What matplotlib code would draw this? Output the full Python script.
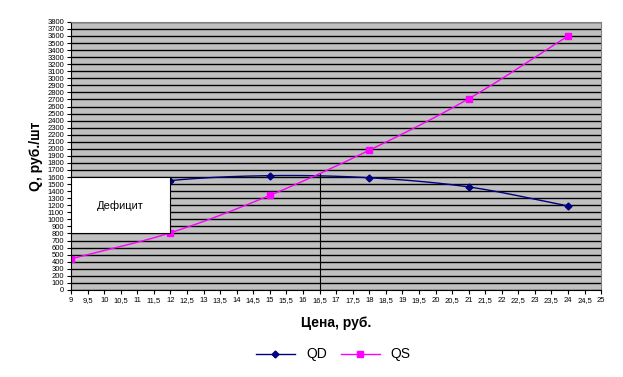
import numpy as np
import matplotlib.pyplot as plt
from matplotlib.ticker import FuncFormatter

# Данные
price = [9, 12, 15, 18, 21, 24]
qd = [1350, 1550, 1620, 1590, 1460, 1190]
qs = [440, 810, 1340, 1980, 2710, 3600]
eq_price = 16.5
eq_q = 1650


def smooth(x, y, n=30):
    # сглаживание Catmull-Rom, как в Excel
    x = np.asarray(x, float)
    y = np.asarray(y, float)
    px = np.concatenate([[2 * x[0] - x[1]], x, [2 * x[-1] - x[-2]]])
    py = np.concatenate([[2 * y[0] - y[1]], y, [2 * y[-1] - y[-2]]])
    xs, ys = [], []
    t = np.linspace(0, 1, n)
    for i in range(1, len(px) - 2):
        for p, out in ((px, xs), (py, ys)):
            p0, p1, p2, p3 = p[i - 1], p[i], p[i + 1], p[i + 2]
            out.extend(0.5 * ((2 * p1) + (-p0 + p2) * t
                              + (2 * p0 - 5 * p1 + 4 * p2 - p3) * t ** 2
                              + (-p0 + 3 * p1 - 3 * p2 + p3) * t ** 3))
    return xs, ys


plt.rcParams['font.family'] = ['Liberation Sans', 'DejaVu Sans']

fig = plt.figure(figsize=(6.23, 3.77), dpi=100)
ax = fig.add_axes([0.114, 0.231, 0.851, 0.711])
ax.set_facecolor('#c0c0c0')

ax.set_xlim(9, 25)
ax.set_ylim(0, 3800)
ax.set_yticks(np.arange(0, 3801, 100))
ax.set_xticks(np.arange(9, 25.01, 0.5))
ax.grid(axis='y', color='black', linewidth=1)
ax.set_axisbelow(True)
ax.xaxis.set_major_formatter(FuncFormatter(lambda v, p: f'{v:g}'.replace('.', ',')))
ax.tick_params(labelsize=5.5, length=3, width=0.8, pad=2)

for s in ['top', 'right']:
    ax.spines[s].set_color('#808080')
for s in ['left', 'bottom']:
    ax.spines[s].set_color('black')

# кривые
sx, sy = smooth(price, qd)
ax.plot(sx, sy, color='#000080', linewidth=1)
ax.plot(price, qd, linestyle='none', marker='D', markersize=3.5, color='#000080', label='QD')
sx, sy = smooth(price, qs)
ax.plot(sx, sy, color='#ff00ff', linewidth=1)
ax.plot(price, qs, linestyle='none', marker='s', markersize=4.5, color='#ff00ff', label='QS')

# равновесие
ax.plot([eq_price, eq_price], [0, eq_q], color='black', linewidth=0.8)

# дефицит
ax.add_patch(plt.Rectangle((9, 800), 3, 800, facecolor='white', edgecolor='black',
                           linewidth=0.8, zorder=5))
ax.text(10.5, 1200, 'Дефицит', ha='center', va='center', fontsize=8, zorder=6)

ax.set_xlabel('Цена, руб.', fontsize=10, fontweight='bold', labelpad=9)
ax.set_ylabel('Q, руб./шт', fontsize=10, fontweight='bold', labelpad=3)

h = [plt.Line2D([], [], color='#000080', marker='D', markersize=3.5, linewidth=1),
     plt.Line2D([], [], color='#ff00ff', marker='s', markersize=4.5, linewidth=1)]
fig.legend(h, ['QD', 'QS'], loc='center', bbox_to_anchor=(0.535, 0.06), ncol=2,
           frameon=False, fontsize=10, handlelength=2.8, columnspacing=1)

fig.savefig('out.png', dpi=100)
